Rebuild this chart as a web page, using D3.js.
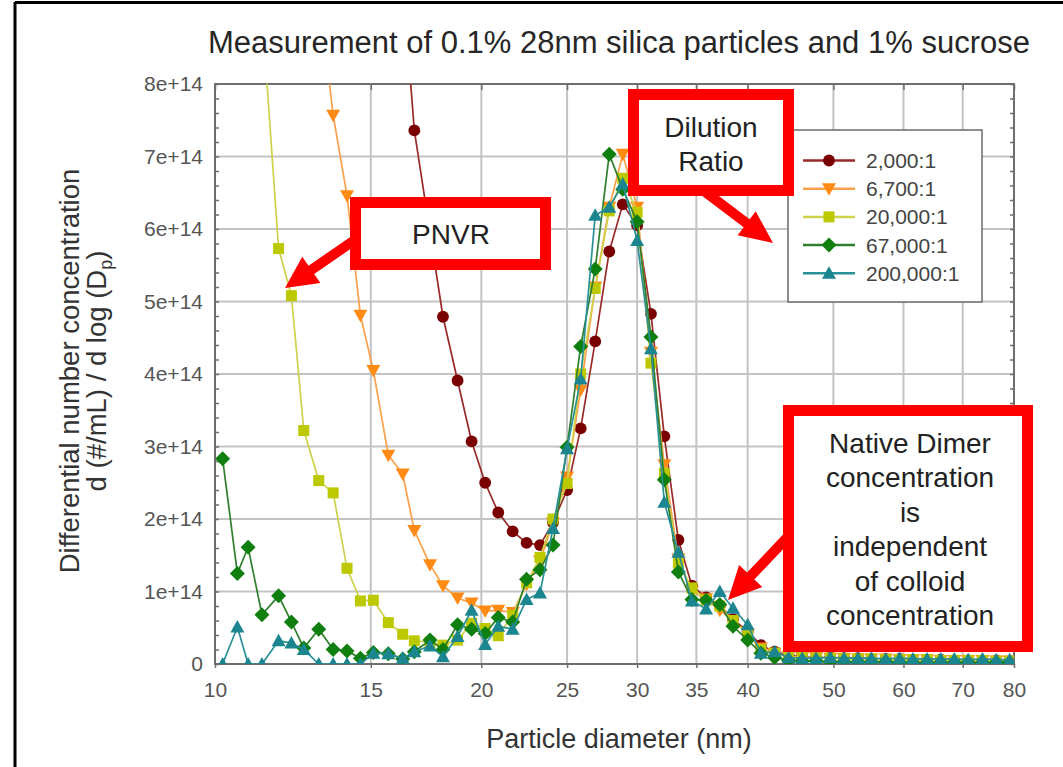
<!DOCTYPE html>
<html><head><meta charset="utf-8">
<script src="https://cdn.jsdelivr.net/npm/d3@7"></script>
<style>
body{margin:0;background:#fff;}
svg{display:block;font-family:"Liberation Sans",Arial,sans-serif;}
</style></head><body>
<svg id="chart" width="1063" height="767"></svg>
<script>
// ---------------- data ----------------
const diameters = [10.2,10.6,10.9,11.3,11.8,12.2,12.6,13.1,13.6,14.1,14.6,15.1,15.7,16.3,16.8,17.5,18.1,18.8,19.5,20.2,
  20.9,21.7,22.5,23.3,24.1,25.0,25.9,26.9,27.9,28.9,30.0,31.1,32.2,33.4,34.6,35.9,37.2,38.5,40.0,41.4,
  42.9,44.5,46.1,47.8,49.6,51.4,53.3,55.2,57.3,59.4,61.5,63.8,66.1,68.5,71.0,73.7,76.4,79.1];

const seriesNames = ["2,000:1","6,700:1","20,000:1","67,000:1","200,000:1"];

// values in units of 1e14 (#/mL per d log Dp); null = no point
const conc2000 = [null,null,null,null,null,null,null,null,null,null,null,null,null,9.4,7.36,5.95,4.79,3.91,3.07,2.50,
  2.09,1.83,1.67,1.64,1.95,2.40,3.25,4.45,5.69,6.34,6.05,4.83,3.14,1.71,1.08,0.92,0.80,0.62,0.45,0.26,
  0.17,0.12,0.10,0.09,0.09,0.08,0.08,0.07,0.07,0.07,0.06,0.06,0.06,0.05,0.05,0.05,0.05,0.04];
const conc6700 = [null,null,null,null,null,null,null,9.3,7.57,6.46,4.81,4.05,2.88,2.62,1.84,1.37,1.08,0.91,0.84,0.73,
  0.74,0.71,1.10,1.42,1.95,2.58,3.78,5.20,6.30,7.03,6.30,4.30,2.75,1.45,1.00,0.90,0.74,0.60,0.42,0.22,
  0.15,0.11,0.09,0.09,0.08,0.08,0.07,0.07,0.07,0.06,0.06,0.06,0.05,0.05,0.05,0.05,0.04,0.04];
const conc20000 = [null,null,null,9.0,5.73,5.08,3.22,2.53,2.36,1.32,0.87,0.88,0.57,0.41,0.32,0.30,0.26,0.33,0.56,0.49,
  0.39,0.67,1.12,1.47,2.00,2.49,4.00,5.18,6.25,6.70,6.23,4.15,2.63,1.39,1.05,0.88,0.80,0.60,0.42,0.20,
  0.15,0.10,0.09,0.08,0.08,0.07,0.07,0.07,0.06,0.06,0.06,0.06,0.05,0.05,0.05,0.05,0.04,0.04];
const conc67000 = [2.83,1.25,1.61,0.68,0.94,0.58,0.22,0.48,0.20,0.18,0.08,0.16,0.14,0.07,0.17,0.33,0.20,0.54,0.48,0.42,
  0.64,0.58,1.17,1.30,1.64,2.99,4.38,5.45,7.03,6.55,6.10,4.51,2.54,1.27,0.89,0.88,0.82,0.52,0.33,0.15,
  0.09,0.05,0.04,0.04,0.03,0.03,0.03,0.03,0.03,0.02,0.02,0.02,0.02,0.02,0.02,0.02,0.02,0.02];
const conc200000 = [0,0.51,0,0,0.32,0.29,0.20,0,0,0,0,0.15,0.14,0.08,0.17,0.25,0.10,0.38,0.74,0.27,
  0.52,0.48,0.89,0.98,1.87,2.97,3.93,6.19,6.30,6.62,5.84,4.35,2.23,1.54,0.87,0.76,1.00,0.77,0.54,0.15,
  0.17,0.09,0.08,0.08,0.09,0.08,0.08,0.08,0.07,0.08,0.07,0.07,0.07,0.07,0.06,0.07,0.06,0.06];
const valueUnit = 1e14;

const xTickValues = [10,15,20,25,30,35,40,50,60,70,80];
const xTickLabels = ["10","15","20","25","30","35","40","50","60","70","80"];
const yTickValues = [0,1e14,2e14,3e14,4e14,5e14,6e14,7e14,8e14];
const yTickLabels = ["0","1e+14","2e+14","3e+14","4e+14","5e+14","6e+14","7e+14","8e+14"];

const titleText = "Measurement of 0.1% 28nm silica particles and 1% sucrose";
const xTitle = "Particle diameter (nm)";

// ---------------- styles ----------------
const styles = [
  {line:"#9a2a2a", fill:"#7a0000", shape:"circle"},
  {line:"#f9a04a", fill:"#ff8a14", shape:"triDown"},
  {line:"#cdd24a", fill:"#bcc800", shape:"square"},
  {line:"#2f7f2f", fill:"#0f7f0f", shape:"diamond"},
  {line:"#2a9097", fill:"#1b8590", shape:"triUp"}
];
const allSeries = [conc2000, conc6700, conc20000, conc67000, conc200000];

function markerPath(shape){
  switch(shape){
    case "circle": return d3.symbol(d3.symbolCircle, 110)();
    case "square": return "M-5.5,-5.5H5.5V5.5H-5.5Z";
    case "diamond": return "M0,-7.5L7.5,0L0,7.5L-7.5,0Z";
    case "triUp": return "M0,-7L7,5.5L-7,5.5Z";
    case "triDown": return "M0,7L7,-5.5L-7,-5.5Z";
  }
}

const svg = d3.select("#chart");
const W = 1063, H = 767;
svg.append("rect").attr("width",W).attr("height",H).attr("fill","#fff");

const plot = {left:215, right:1014, top:84, bottom:664};
const x = d3.scaleLog().domain([10,80]).range([plot.left, plot.right]);
const y = d3.scaleLinear().domain([0,8e14]).range([plot.bottom, plot.top]);

// outer black frame (left & top)
svg.append("line").attr("x1",15).attr("x2",15).attr("y1",2).attr("y2",H).attr("stroke","#000").attr("stroke-width",3);
svg.append("line").attr("x1",15).attr("x2",W).attr("y1",2.5).attr("y2",2.5).attr("stroke","#000").attr("stroke-width",3);

// grid
const grid = svg.append("g");
grid.selectAll("line.vx").data(xTickValues.slice(1,-1)).join("line")
  .attr("x1",d=>x(d)).attr("x2",d=>x(d)).attr("y1",plot.top).attr("y2",plot.bottom)
  .attr("stroke","#c3c3c3").attr("stroke-width",2);
grid.selectAll("line.hy").data(yTickValues.slice(1,-1)).join("line")
  .attr("y1",d=>y(d)).attr("y2",d=>y(d)).attr("x1",plot.left).attr("x2",plot.right)
  .attr("stroke","#c3c3c3").attr("stroke-width",2);

// axes via d3 axis
const axisColor = "#6e6e6e";
const minorY = d3.range(0, 8e14+1, 0.2e14);
function styleAxis(g){
  g.select(".domain").remove();
  g.selectAll(".tick line").attr("stroke",axisColor).attr("stroke-width",1.5);
}
const yAxis = svg.append("g").attr("transform",`translate(${plot.left},0)`)
  .call(d3.axisLeft(y).tickValues(yTickValues).tickFormat((d,i)=>yTickLabels[i]).tickSize(0).tickPadding(12));
yAxis.select(".domain").remove();
yAxis.selectAll("text").attr("font-size",21).attr("fill","#555").attr("font-family","Liberation Sans, Arial, sans-serif");
svg.append("g").attr("transform",`translate(${plot.left},0)`)
  .call(d3.axisRight(y).tickValues(minorY).tickFormat("").tickSize(4)).call(styleAxis);
svg.append("g").attr("transform",`translate(${plot.right},0)`)
  .call(d3.axisLeft(y).tickValues(minorY).tickFormat("").tickSize(4)).call(styleAxis);
const xAxis = svg.append("g").attr("transform",`translate(0,${plot.bottom})`)
  .call(d3.axisBottom(x).tickValues(xTickValues).tickFormat((d,i)=>xTickLabels[i]).tickSize(4).tickPadding(14));
xAxis.select(".domain").remove();
xAxis.selectAll(".tick line").attr("stroke",axisColor).attr("stroke-width",1.5);
xAxis.selectAll("text").attr("font-size",21).attr("fill","#555").attr("font-family","Liberation Sans, Arial, sans-serif");
svg.append("g").attr("transform",`translate(0,${plot.top})`)
  .call(d3.axisBottom(x).tickValues(xTickValues).tickFormat("").tickSize(6)).call(styleAxis);

// frame
svg.append("rect").attr("x",plot.left).attr("y",plot.top)
  .attr("width",plot.right-plot.left).attr("height",plot.bottom-plot.top)
  .attr("fill","none").attr("stroke",axisColor).attr("stroke-width",2);

// clip
svg.append("clipPath").attr("id","clip").append("rect")
  .attr("x",plot.left).attr("y",plot.top).attr("width",plot.right-plot.left).attr("height",plot.bottom-plot.top);

const dataG = svg.append("g").attr("clip-path","url(#clip)");
const lineGen = d3.line().defined(d=>d.v!=null).x(d=>x(d.d)).y(d=>y(d.v*valueUnit));

allSeries.forEach((vals,i)=>{
  const pts = diameters.map((d,k)=>({d, v: vals[k]}));
  const st = styles[i];
  const g = dataG.append("g");
  g.append("path").datum(pts).attr("d",lineGen).attr("fill","none")
    .attr("stroke",st.line).attr("stroke-width",1.7);
  g.selectAll("path.m").data(pts.filter(p=>p.v!=null)).join("path").attr("class","m")
    .attr("transform",p=>`translate(${x(p.d)},${y(p.v*valueUnit)})`)
    .attr("d",markerPath(st.shape)).attr("fill",st.fill);
});

// titles
svg.append("text").attr("x",619).attr("y",53).attr("text-anchor","middle")
  .attr("font-size",31).attr("fill","#262626").text(titleText);
svg.append("text").attr("x",619).attr("y",748).attr("text-anchor","middle")
  .attr("font-size",27).attr("fill","#333").text(xTitle);
const yt = svg.append("text").attr("transform","translate(79,371) rotate(-90)")
  .attr("text-anchor","middle").attr("font-size",27.5).attr("fill","#333");
yt.append("tspan").attr("x",0).attr("y",0).text("Differential number concentration");
const yt2 = svg.append("text").attr("transform","translate(106,371) rotate(-90)")
  .attr("text-anchor","middle").attr("font-size",27.5).attr("fill","#333");
yt2.append("tspan").text("d (#/mL) / d log (D");
yt2.append("tspan").attr("font-size",18).attr("dy",6).text("p");
yt2.append("tspan").attr("dy",-6).text(")");

// legend
const leg = svg.append("g");
leg.append("rect").attr("x",788).attr("y",130).attr("width",194).attr("height",172)
  .attr("fill","#fff").attr("stroke","#6a6a6a").attr("stroke-width",1.5);
seriesNames.forEach((name,i)=>{
  const ly = 160.5 + i*28.2;
  const st = styles[i];
  leg.append("line").attr("x1",803).attr("x2",855).attr("y1",ly).attr("y2",ly)
    .attr("stroke",st.line).attr("stroke-width",2.5);
  leg.append("path").attr("transform",`translate(829,${ly})`).attr("d",markerPath(st.shape)).attr("fill",st.fill);
  leg.append("text").attr("x",866).attr("y",ly).attr("dy","0.36em")
    .attr("font-size",21).attr("fill","#444").text(name);
});

// annotations
const red = "#ff0000";
const ann = svg.append("g");
function arrow(x0,y0,x1,y1,sw,hl,hw){
  const dx=x1-x0, dy=y1-y0, L=Math.hypot(dx,dy), ux=dx/L, uy=dy/L, px=-uy, py=ux;
  const bx=x1-ux*hl, by=y1-uy*hl;
  const pts=[[x0+px*sw/2,y0+py*sw/2],[bx+px*sw/2,by+py*sw/2],[bx+px*hw,by+py*hw],[x1,y1],
    [bx-px*hw,by-py*hw],[bx-px*sw/2,by-py*sw/2],[x0-px*sw/2,y0-py*sw/2]];
  ann.append("path").attr("d","M"+pts.map(p=>p.join(",")).join("L")+"Z").attr("fill",red);
}
arrow(375,226,285,288,10,32,16);
arrow(696,185,773,243,10,33,15);
arrow(800,524,728,600,10,33,16);

function box(bx,by,bw,bh,lines,cx,y0,dyLine){
  ann.append("rect").attr("x",bx).attr("y",by).attr("width",bw).attr("height",bh)
    .attr("fill","#fff").attr("stroke",red).attr("stroke-width",11);
  lines.forEach((t,i)=>{
    ann.append("text").attr("x",cx).attr("y",y0+i*dyLine).attr("text-anchor","middle")
      .attr("font-size",28).attr("fill","#222").text(t);
  });
}
box(355.5,202.5,190,62,["PNVR"],451,244,0);
box(633.5,94.5,155,96,["Dilution","Ratio"],711,137,34);
box(788.5,410.5,239,236,["Native Dimer","concentration","is","independent","of colloid","concentration"],910,453,34.4);
</script>
</body></html>
